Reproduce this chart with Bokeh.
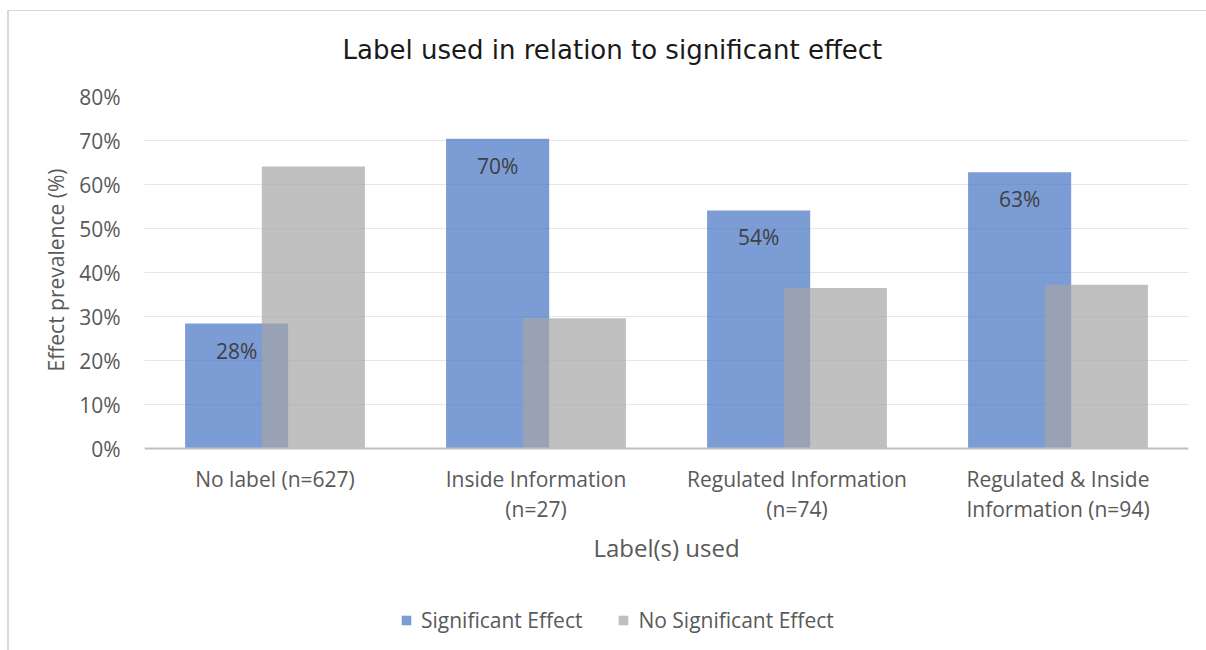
from bokeh.plotting import figure
from bokeh.models import (ColumnDataSource, FactorRange, FixedTicker, PrintfTickFormatter,
                          Legend, LegendItem, Title)
from bokeh.transform import dodge
from bokeh.embed import file_html
from bokeh.resources import INLINE
from bokeh.core.properties import value

# Categories (label type and sample size) and effect prevalence in percent
categories = ["No label (n=627)", "Inside Information\n(n=27)",
              "Regulated Information\n(n=74)", "Regulated & Inside\nInformation (n=94)"]
significant = [28.4, 70.4, 54.1, 62.8]
no_significant = [64.1, 29.6, 36.5, 37.2]
y_ticks = [0, 10, 20, 30, 40, 50, 60, 70, 80]

labels = ["%d%%" % round(v) for v in significant]
source = ColumnDataSource(dict(cat=categories, sig=significant, nosig=no_significant, lab=labels))

FONT = "Open Sans"
TEXT = "#595959"

# The frame runs down to the bottom of the canvas so the legend can sit inside it;
# the category axis is pinned at y = 0 and the space below holds its labels.
p = figure(x_range=FactorRange(factors=categories), y_range=(-45.9, 80),
           width=1206, height=650, output_backend="svg", toolbar_location=None,
           min_border_left=144, min_border_right=18, min_border_top=96, min_border_bottom=0,
           outline_line_color=None, border_fill_color=None)
# thin chart-area border along the top and left edges, painted behind the canvas
p.styles = {"background": "linear-gradient(#D9D9D9, #D9D9D9) 7px 10px / 1199px 1px no-repeat, "
                          "linear-gradient(#D9D9D9, #D9D9D9) 7px 10px / 2px 640px no-repeat, "
                          "#FFFFFF"}

bw = 0.395
off = 0.147
r_sig = p.vbar(x=dodge("cat", -off, range=p.x_range), top="sig", width=bw, source=source,
               fill_color="#4472C4", fill_alpha=0.7, line_color=None)
r_no = p.vbar(x=dodge("cat", off, range=p.x_range), top="nosig", width=bw, source=source,
              fill_color="#A5A5A5", fill_alpha=0.7, line_color=None)

p.text(x=dodge("cat", -off, range=p.x_range), y="sig", text="lab", source=source,
       y_offset=27, text_align="center", text_baseline="middle",
       text_font=value(FONT), text_font_size="21px", text_color="#404040")

# Title
p.title.text = "Label used in relation to significant effect"
p.title.text_font = "DejaVu Sans"
p.title.text_font_size = "26px"
p.title.text_font_style = "normal"
p.title.text_color = "#1A1A1A"
p.title.align = "left"
p.title.offset = 198
p.title.standoff = 64

# Value axis
p.yaxis.ticker = FixedTicker(ticks=y_ticks)
p.yaxis.formatter = PrintfTickFormatter(format="%d%%")
p.yaxis.axis_line_color = None
p.yaxis.major_tick_line_color = None
p.yaxis.minor_tick_line_color = None
p.yaxis.major_tick_out = 0
p.yaxis.major_label_standoff = 24
p.yaxis.major_label_text_font = FONT
p.yaxis.major_label_text_font_size = "21px"
p.yaxis.major_label_text_color = TEXT

# Value axis title, placed beside the 0-80% span
ytitle = Title(text="Effect prevalence (%)", align="right", offset=72, standoff=14,
               text_font=FONT, text_font_size="21px", text_font_style="normal",
               text_color=TEXT)
p.add_layout(ytitle, "left")

# Category axis
p.xaxis.fixed_location = 0
p.xaxis.axis_line_color = "#BFBFBF"
p.xaxis.axis_line_width = 2
p.xaxis.major_tick_line_color = None
p.xaxis.major_tick_out = 0
p.xaxis.major_label_standoff = 16
p.xaxis.major_label_text_font = FONT
p.xaxis.major_label_text_font_size = "21px"
p.xaxis.major_label_text_color = TEXT
p.xaxis.major_label_text_line_height = 1.08
p.xaxis.axis_label = "Label(s) used"
p.xaxis.axis_label_text_font = FONT
p.xaxis.axis_label_text_font_size = "24px"
p.xaxis.axis_label_text_font_style = "normal"
p.xaxis.axis_label_text_color = TEXT
p.xaxis.axis_label_standoff = 5

p.xgrid.grid_line_color = None
p.ygrid.grid_line_color = "#E6E6E6"
p.ygrid.grid_line_width = 1

legend = Legend(items=[LegendItem(label="Significant Effect", renderers=[r_sig]),
                       LegendItem(label="No Significant Effect", renderers=[r_no])],
                orientation="horizontal", location=(256, 16),
                glyph_width=12, glyph_height=12, label_standoff=9, spacing=35,
                padding=0, margin=0, border_line_color=None, background_fill_alpha=0,
                label_text_font=FONT, label_text_font_size="21px", label_text_color=TEXT)
p.add_layout(legend, "center")

open("out.html", "w").write(file_html(p, INLINE))
